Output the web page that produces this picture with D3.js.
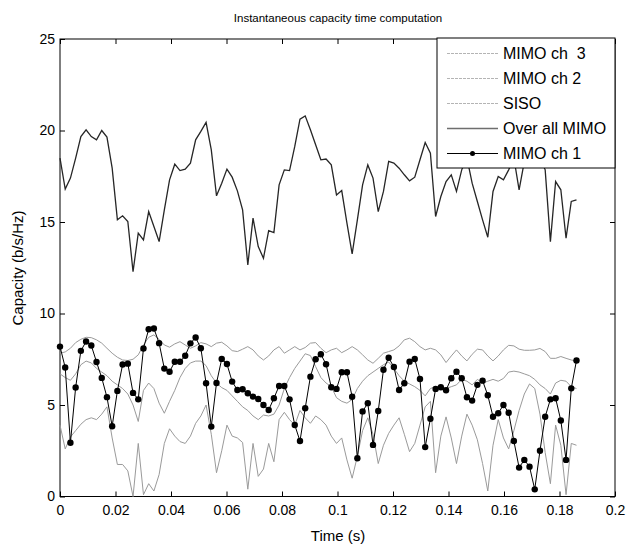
<!DOCTYPE html>
<html>
<head>
    <meta charset="UTF-8">
    <script src="https://d3js.org/d3.v7.min.js"></script>
    <style>
        body { margin: 0; background: #fff; }
        svg { font-family: "Liberation Sans", Arial, sans-serif; }
        .axis path { display: none; }
        .axis line { stroke: #000; }
        .axis text { font-size: 14px; fill: #000; }
    </style>
</head>
<body>
    <svg id="chart" width="628" height="545"></svg>

    <script>
        // sample step of the time axis (s)
        const dt = 0.00188;

        const mimoCh1 = [8.19, 7.05, 2.94, 5.96, 7.96, 8.47, 8.25, 7.35, 6.48, 5.43,
            3.84, 5.77, 7.21, 7.26, 5.66, 5.31, 8.09, 9.14, 9.18, 8.38,
            6.99, 6.82, 7.36, 7.36, 7.69, 8.37, 8.69, 8.10, 6.19, 3.82,
            6.2, 7.52, 7.24, 6.28, 5.82, 5.86, 5.64, 5.46, 5.33, 5.00,
            4.73, 5.37, 6.04, 6.04, 5.31, 3.91, 3.03, 4.82, 6.55, 7.50,
            7.77, 7.23, 5.97, 5.88, 6.79, 6.79, 5.45, 2.09, 4.65, 5.10,
            2.82, 4.67, 6.93, 7.58, 7.08, 5.82, 6.19, 7.37, 7.51, 6.42,
            2.70, 4.25, 5.88, 5.97, 5.81, 6.46, 6.82, 6.46, 5.42, 5.24,
            6.10, 6.33, 5.53, 4.36, 4.55, 5.00, 4.58, 3.03, 1.58, 2.00,
            1.63, 0.39, 2.50, 4.36, 5.31, 5.37, 4.15, 2.00, 5.91, 7.43];

        const overallMimo = [18.49, 16.80, 17.40, 18.49, 19.67, 20.04, 19.67, 19.49, 20.0, 19.64,
            17.94, 15.12, 15.34, 15.03, 12.29, 14.39, 14.02, 15.57, 14.75, 13.93,
            15.66, 17.30, 18.16, 17.81, 17.89, 18.22, 19.49, 19.95, 20.44, 18.94,
            16.43, 17.12, 17.89, 17.45, 16.7, 15.66, 12.66, 15.21, 13.66, 13.02,
            14.53, 14.42, 17.03, 17.85, 17.81, 19.13, 20.62, 20.80, 20.04, 19.22,
            18.40, 18.44, 18.12, 16.48, 16.72, 14.94, 13.26, 15.12, 17.03, 18.12,
            17.40, 15.57, 16.67, 18.31, 18.22, 17.94, 17.58, 17.25, 17.45, 18.40,
            19.34, 18.76, 15.30, 16.39, 17.21, 17.58, 16.67, 17.85, 18.5, 17.12,
            16.12, 15.12, 14.17, 16.67, 17.49, 17.30, 17.85, 18.5, 16.76, 18.3,
            18.5, 18.6, 18.5, 17.85, 13.93, 17.21, 16.76, 14.12, 16.12, 16.21];

        const mimoCh2 = [7.83, 7.90, 8.10, 8.41, 8.59, 8.70, 8.68, 8.56, 8.38, 8.10,
            7.83, 7.61, 7.46, 7.43, 7.50, 7.74, 8.28, 8.70, 8.83, 8.59,
            8.28, 8.16, 8.34, 8.46, 8.28, 8.10, 8.23, 8.41, 8.34, 8.19,
            8.38, 8.43, 8.23, 7.97, 7.92, 8.05, 8.19, 8.01, 7.68, 7.46,
            7.68, 8.01, 8.19, 7.83, 8.01, 8.19, 8.01, 8.14, 8.38, 8.41,
            8.10, 7.86, 8.01, 8.10, 7.86, 8.01, 8.19, 8.01, 7.74, 7.46,
            7.28, 7.55, 7.83, 7.92, 8.01, 8.23, 8.56, 8.65, 8.46, 8.19,
            8.01, 8.10, 8.01, 7.74, 7.32, 7.68, 8.01, 7.68, 7.41, 7.77,
            8.05, 8.01, 7.68, 7.41, 7.68, 8.01, 8.26, 8.23, 8.05, 7.99,
            7.99, 8.01, 8.09, 7.92, 7.55, 7.55, 7.65, 7.55, 7.46, 7.41];

        const mimoCh3 = [6.7, 6.5, 6.35, 6.7, 7.2, 7.4, 7.3, 7.0, 6.8, 6.6,
            6.3, 6.1, 5.9, 5.6, 5.0, 4.1, 5.8, 6.2, 5.9, 5.1,
            4.55, 5.2, 5.8, 6.5, 7.0, 7.3, 7.4, 7.4, 7.15, 6.6,
            6.2, 5.95, 5.8, 5.5, 5.2, 4.9, 4.7, 4.4, 4.2, 4.45,
            4.4, 4.5, 5.0, 5.9, 6.5, 7.0, 7.4, 7.8, 7.7, 7.1,
            6.5, 6.2, 6.0, 5.4, 5.2, 5.1, 5.3, 5.9, 6.3, 6.6,
            6.8, 7.0, 7.2, 7.35, 7.0, 6.6, 6.3, 6.15, 6.0, 5.8,
            5.5, 5.9, 6.0, 6.0, 5.9, 6.0, 6.1, 6.4, 6.3, 6.1,
            6.4, 6.2, 6.3, 6.4, 6.3, 6.45, 6.8, 6.85, 6.8, 6.7,
            6.6, 6.4, 6.1, 5.9, 5.6, 6.2, 6.35, 6.3, 6.0, 5.9];

        const siso = [3.9, 2.6, 3.25, 3.6, 3.95, 4.2, 4.3, 4.2, 4.5, 4.9,
            3.2, 1.75, 1.75, 1.4, 0.0, 2.9, 0.1, 0.7, 0.3, 1.2,
            2.9, 3.7, 3.3, 3.0, 2.9, 3.3, 4.0, 4.4, 5.0, 3.4,
            1.3, 2.5, 3.9, 3.3, 3.2, 2.95, 0.4, 2.9, 1.1, 1.5,
            2.9, 1.9, 4.2, 4.6, 4.2, 3.9, 4.7, 4.3, 4.0, 4.4,
            4.2, 3.9, 3.3, 2.9, 3.2, 2.0, 1.0, 2.2, 3.6, 4.3,
            3.4, 1.8, 2.8, 3.45, 3.9, 4.3, 3.4, 2.45, 2.9, 3.9,
            4.9, 5.2, 1.3, 3.3, 4.35, 3.2, 1.8, 3.3, 4.5, 3.9,
            3.1, 1.8, 0.3, 2.8, 4.2, 3.2, 2.6, 3.6, 4.7, 5.6,
            6.15, 5.9, 4.5, 2.4, 0.7, 3.9, 2.8, 0.1, 2.9, 2.8];

        const xTicks = [0, 0.02, 0.04, 0.06, 0.08, 0.1, 0.12, 0.14, 0.16, 0.18, 0.2];
        const yTicks = [0, 5, 10, 15, 20, 25];
        const legendNames = ["MIMO ch  3", "MIMO ch 2", "SISO", "Over all MIMO", "MIMO ch 1"];

        let margin = {top: 39, left: 60},
            width = 555,
            height = 457.5;

        let svg = d3.select("#chart");
        let chart = svg.append("g")
            .attr("transform", "translate(" + margin.left + "," + margin.top + ")");

        let xScale = d3.scaleLinear().domain([0, 0.2]).range([0, width]);
        let yScale = d3.scaleLinear().domain([0, 25]).range([height, 0]);

        let fmtX = d => String(+d.toFixed(2));

        // axes, Matlab style: ticks inside on all four sides
        chart.append("g")
            .attr("class", "axis")
            .attr("transform", "translate(0," + height + ")")
            .call(d3.axisBottom(xScale).tickValues(xTicks).tickFormat(fmtX)
                .tickSizeInner(-5).tickSizeOuter(0).tickPadding(9));
        chart.append("g")
            .attr("class", "axis")
            .call(d3.axisTop(xScale).tickValues(xTicks).tickFormat("")
                .tickSizeInner(-5).tickSizeOuter(0));
        chart.append("g")
            .attr("class", "axis")
            .call(d3.axisLeft(yScale).tickValues(yTicks).tickFormat(d3.format("d"))
                .tickSizeInner(-5).tickSizeOuter(0).tickPadding(5));
        chart.append("g")
            .attr("class", "axis")
            .attr("transform", "translate(" + width + ",0)")
            .call(d3.axisRight(yScale).tickValues(yTicks).tickFormat("")
                .tickSizeInner(-5).tickSizeOuter(0));

        chart.append("rect")
            .attr("width", width)
            .attr("height", height)
            .attr("fill", "none")
            .attr("stroke", "#000")
            .attr("stroke-width", 1);

        let line = d3.line()
            .x((d, i) => xScale(i * dt))
            .y(d => yScale(d));

        // grey series first
        [mimoCh3, mimoCh2, siso].forEach(s => {
            chart.append("path")
                .datum(s)
                .attr("fill", "none")
                .attr("stroke", "#9a9a9a")
                .attr("stroke-width", 1)
                .attr("d", line);
        });

        chart.append("path")
            .datum(overallMimo)
            .attr("fill", "none")
            .attr("stroke", "#262626")
            .attr("stroke-width", 1.3)
            .attr("d", line);

        chart.append("path")
            .datum(mimoCh1)
            .attr("fill", "none")
            .attr("stroke", "#000")
            .attr("stroke-width", 1)
            .attr("d", line);

        chart.selectAll(".dot")
            .data(mimoCh1)
            .join("circle")
            .attr("class", "dot")
            .attr("cx", (d, i) => xScale(i * dt))
            .attr("cy", d => yScale(d))
            .attr("r", 3.2)
            .attr("fill", "#000");

        // legend
        let legend = svg.append("g").attr("transform", "translate(437,38)");
        legend.append("rect")
            .attr("width", 178)
            .attr("height", 130)
            .attr("fill", "#fff")
            .attr("stroke", "#000");

        let rows = legend.selectAll(".row")
            .data(legendNames)
            .join("g")
            .attr("class", "row")
            .attr("transform", (d, i) => "translate(0," + (15.5 + i * 25) + ")");

        rows.append("line")
            .attr("x1", 10).attr("x2", 61)
            .attr("y1", 0).attr("y2", 0)
            .attr("stroke", (d, i) => i < 3 ? "#b4b4b4" : (i == 3 ? "#6e6e6e" : "#000"))
            .attr("stroke-width", (d, i) => i == 3 ? 1.5 : 1)
            .attr("stroke-dasharray", (d, i) => i < 3 ? "3,1" : null);

        rows.filter((d, i) => i == 4)
            .append("circle")
            .attr("cx", 35.5).attr("cy", 0).attr("r", 2.5)
            .attr("fill", "#000");

        rows.append("text")
            .attr("x", 66)
            .attr("y", 0)
            .attr("dy", "0.36em")
            .style("font-size", "16px")
            .style("white-space", "pre")
            .text(d => d);

        // title and axis labels
        svg.append("text")
            .attr("x", 338)
            .attr("y", 22)
            .attr("text-anchor", "middle")
            .style("font-size", "11.5px")
            .text("Instantaneous capacity time computation");

        svg.append("text")
            .attr("x", 338)
            .attr("y", 541)
            .attr("text-anchor", "middle")
            .style("font-size", "15px")
            .text("Time (s)");

        svg.append("text")
            .attr("transform", "translate(23,268) rotate(-90)")
            .attr("text-anchor", "middle")
            .style("font-size", "15px")
            .text("Capacity (b/s/Hz)");
    </script>
</body>
</html>
